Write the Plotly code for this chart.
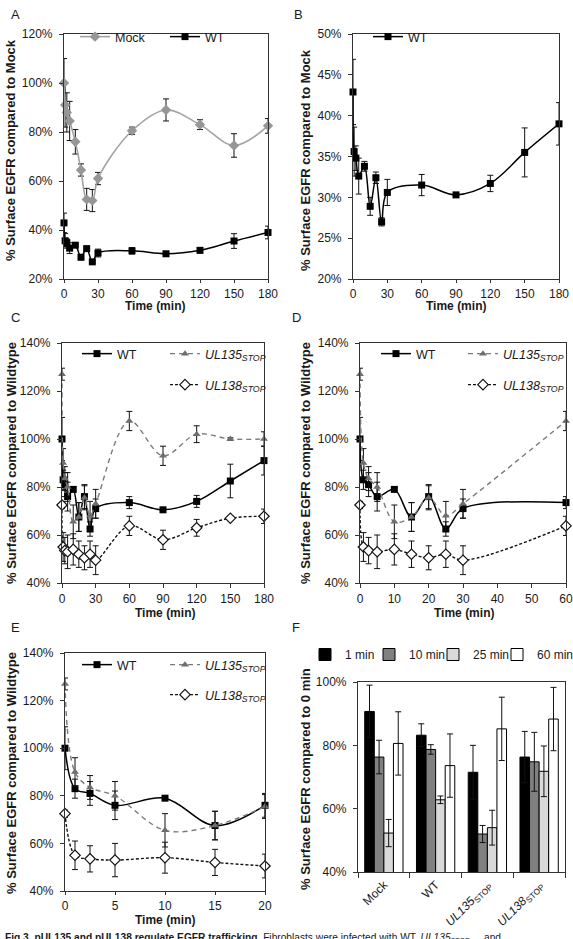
import plotly.graph_objects as go

W, H = 573, 939
FONT = "Arial, Liberation Sans, sans-serif"
TXT = "#1a1a1a"
AX = "#333333"

# ---------------- data ----------------
TIME = [0, 1, 2.5, 5, 10, 15, 20, 25, 30, 60, 90, 120, 150, 180]

# Panel A / B (compared to Mock)
MOCK = [100, 91, 88, 84.5, 76, 64.5, 52.5, 52, 61, 80.5, 89, 83, 74.5, 82.5]
MOCK_ERR = [10, 9, 8, 8, 5, 2.5, 4.5, 4.5, 2.5, 1.5, 4.5, 2, 4.8, 3]
WT_M = [42.9, 35.6, 34.8, 32.6, 33.8, 28.9, 32.4, 27.0, 30.6, 31.5, 30.3, 31.7, 35.5, 39.0]
WT_M_ERR = [4, 3, 1.5, 2.2, 0.6, 1.1, 0.7, 0.5, 1.6, 1.3, 0.2, 1, 3, 2.6]

# Panels C / D / E (compared to Wildtype)
WT = [100, 83, 81, 76, 79, 67.5, 76, 62.5, 71, 73.5, 70.5, 74, 82.5, 91]
WT_ERR = [9, 4, 5, 6, 1, 6, 5, 3, 4, 2.5, 0.5, 2.5, 7, 6]
UL135 = [127, 90, 83.5, 80, 65.5, 67.5, 75.5, 68, 73, 107.5, 93, 102, 100, 100]
UL135_ERR = [2.5, 6, 5, 6, 7, 6, 5, 6, 6, 4, 4, 3.5, 0.5, 3]
UL138 = [72.5, 55, 53.5, 53, 54, 52, 50.5, 52, 49.5, 63.8, 58, 63, 67, 67.8]
UL138_ERR = [1.5, 6, 5.5, 7, 6.5, 5.5, 5, 5.5, 6, 4, 4, 3.5, 0.5, 3]

# Panel F (compared to 0 min)
F_GROUPS = ["Mock", "WT", "<i>UL135</i><sub>STOP</sub>", "<i>UL138</i><sub>STOP</sub>"]
F_SERIES = ["1 min", "10 min", "25 min", "60 min"]
F_VALUES = [
    [90.7, 83.2, 71.5, 76.3],
    [76.3, 78.7, 52.0, 74.8],
    [52.3, 62.8, 54.0, 71.8],
    [80.6, 73.6, 85.2, 88.3],
]
F_ERRS = [
    [8.3, 3.6, 8.5, 8.1],
    [5.3, 1.5, 2.7, 9.3],
    [4.3, 1.2, 5.5, 8.0],
    [10, 10, 10, 10],
]
F_COLORS = ["#000000", "#808080", "#d9d9d9", "#ffffff"]

UL135_NAME = "<i>UL135<sub>STOP</sub></i>"
UL138_NAME = "<i>UL138<sub>STOP</sub></i>"


def px_x(p):
    return p / W


def px_y(p):
    return 1 - p / H


def dom_x(a, b):
    return [a / W, b / W]


def dom_y(top, bottom):
    return [1 - bottom / H, 1 - top / H]


def err(arr):
    return dict(type="data", array=arr, color="#111111", thickness=1, width=3)


fig = go.Figure()

# ---------- Panel A ----------
fig.add_trace(go.Scatter(
    x=TIME, y=MOCK, error_y=err(MOCK_ERR), name="Mock", mode="lines+markers",
    line=dict(color="#a3a3a3", width=1.6, shape="spline"),
    marker=dict(symbol="diamond", size=8, color="#969696"),
    xaxis="x", yaxis="y", legend="legend", cliponaxis=False))
fig.add_trace(go.Scatter(
    x=TIME, y=WT_M, error_y=err(WT_M_ERR), name="WT", mode="lines+markers",
    line=dict(color="#000000", width=1.5, shape="spline"),
    marker=dict(symbol="square", size=7, color="#000000"),
    xaxis="x", yaxis="y", legend="legend", cliponaxis=False, legendwidth=40))

# ---------- Panel B ----------
fig.add_trace(go.Scatter(
    x=TIME, y=WT_M, error_y=err(WT_M_ERR), name="WT", mode="lines+markers",
    line=dict(color="#000000", width=1.5, shape="spline"),
    marker=dict(symbol="square", size=7, color="#000000"),
    xaxis="x2", yaxis="y2", legend="legend2", cliponaxis=False, legendwidth=40))


def three_series(xa, ya, leg1, leg2, tmax):
    keep = [i for i, t in enumerate(TIME) if t <= tmax]
    tx = [TIME[i] for i in keep]
    sel = lambda a: [a[i] for i in keep]
    fig.add_trace(go.Scatter(
        x=tx, y=sel(WT), error_y=err(sel(WT_ERR)), name="WT", mode="lines+markers",
        line=dict(color="#000000", width=1.5, shape="spline"),
        marker=dict(symbol="square", size=7, color="#000000"),
        xaxis=xa, yaxis=ya, legend=leg1, cliponaxis=False))
    fig.add_trace(go.Scatter(
        x=tx, y=sel(UL135), error_y=err(sel(UL135_ERR)), name=UL135_NAME, mode="lines+markers",
        line=dict(color="#7a7a7a", width=1.4, shape="spline", dash="5px,4px"),
        marker=dict(symbol="triangle-up", size=7, color="#6e6e6e"),
        xaxis=xa, yaxis=ya, legend=leg1, cliponaxis=False, legendwidth=62))
    fig.add_trace(go.Scatter(
        x=tx, y=sel(UL138), error_y=err(sel(UL138_ERR)), name=UL138_NAME, mode="lines+markers",
        line=dict(color="#111111", width=1.4, shape="spline", dash="3px,2px"),
        marker=dict(symbol="diamond", size=8, color="#ffffff", line=dict(color="#111111", width=1.2)),
        xaxis=xa, yaxis=ya, legend=leg2, cliponaxis=False, legendwidth=62))


three_series("x3", "y3", "legend3", "legend4", 180)
three_series("x4", "y4", "legend5", "legend6", 60)
three_series("x5", "y5", "legend7", "legend8", 20)

# ---------- Panel F ----------
for i, (name, vals, errs, col) in enumerate(zip(F_SERIES, F_VALUES, F_ERRS, F_COLORS)):
    fig.add_trace(go.Bar(
        x=F_GROUPS, y=vals, name=name,
        marker=dict(color=col, line=dict(color="#000000", width=1)),
        error_y=dict(type="data", array=errs, color="#111111", thickness=1, width=3),
        xaxis="x6", yaxis="y6", legend="legend9",
        legendwidth=(36 if i == len(F_SERIES) - 1 else None)))


def axis(domain, anchor, **kw):
    d = dict(domain=domain, anchor=anchor, showline=True, linecolor=AX, linewidth=1.2,
             mirror=True, ticks="outside", ticklen=4, tickcolor=AX, showgrid=False,
             zeroline=False, tickfont=dict(family=FONT, size=12, color=TXT), fixedrange=True)
    d.update(kw)
    return d


def yaxis(domain, anchor, **kw):
    return axis(domain, anchor, ticklabelstandoff=4, ticksuffix="%", **kw)


def legend(xp, yp, ew, size=12.5):
    return dict(x=px_x(xp), y=px_y(yp), xanchor="left", yanchor="top", orientation="h",
                bgcolor="rgba(0,0,0,0)", borderwidth=0, entrywidth=ew, entrywidthmode="pixels",
                font=dict(family=FONT, size=size, color=TXT), tracegroupgap=0)


layout = dict(
    width=W, height=H, margin=dict(l=0, r=0, t=0, b=0, autoexpand=False),
    paper_bgcolor="white", plot_bgcolor="white",
    font=dict(family=FONT, color=TXT),
    barmode="group", bargap=0.26, bargroupgap=0,
    xaxis=axis(dom_x(64, 268), "y", range=[0, 180], tickvals=[0, 30, 60, 90, 120, 150, 180],
               ticklen=3),
    yaxis=yaxis(dom_y(34, 279), "x", range=[20, 120], dtick=20),
    xaxis2=axis(dom_x(353, 559), "y2", range=[0, 180], tickvals=[0, 30, 60, 90, 120, 150, 180],
                ticklen=3),
    yaxis2=yaxis(dom_y(34, 279), "x2", range=[20, 50], dtick=5),
    xaxis3=axis(dom_x(62, 264), "y3", range=[0, 180], tickvals=[0, 30, 60, 90, 120, 150, 180]),
    yaxis3=yaxis(dom_y(343, 583), "x3", range=[40, 140], dtick=20),
    xaxis4=axis(dom_x(360, 566), "y4", range=[0, 60], dtick=10),
    yaxis4=yaxis(dom_y(343, 583), "x4", range=[40, 140], dtick=20),
    xaxis5=axis(dom_x(65, 265), "y5", range=[0, 20], dtick=5, ticklen=3),
    yaxis5=yaxis(dom_y(653, 891), "x5", range=[40, 140], dtick=20),
    xaxis6=axis(dom_x(358, 565), "y6", type="category", tickangle=-45, tickson="boundaries",
                ticklen=5),
    yaxis6=yaxis(dom_y(682, 872), "x6", range=[40, 100], dtick=20),
    legend=legend(75, 22, 45),
    legend2=legend(368, 22, 45),
    legend3=legend(77, 339, 43),
    legend4=legend(165, 370, 62),
    legend5=legend(376, 339, 42),
    legend6=legend(463, 370, 62),
    legend7=legend(77, 650, 43),
    legend8=legend(165, 680, 62),
    legend9=legend(305, 640, 19, size=12),
    showlegend=True,
)

annotations = []
# panel letters
for letter, xp, yp in [("A", 15, 15), ("B", 298, 15), ("C", 15, 317),
                       ("D", 296, 317), ("E", 15, 627), ("F", 296, 627)]:
    annotations.append(dict(text=letter, x=px_x(xp), y=px_y(yp), xref="paper", yref="paper",
                            xanchor="center", yanchor="middle", showarrow=False,
                            font=dict(family=FONT, size=13, color=TXT)))
# y titles
for txt, xp, yp in [("% Surface EGFR compared to Mock", 11, 150),
                    ("% Surface EGFR compared to Mock", 305, 160),
                    ("% Surface EGFR compared to Wildtype", 11, 463),
                    ("% Surface EGFR compared to Wildtype", 305, 463),
                    ("% Surface EGFR compared to Wildtype", 11, 773),
                    ("% Surface EGFR compared to 0 min", 305, 779)]:
    annotations.append(dict(text="<b>" + txt + "</b>", x=px_x(xp), y=px_y(yp), xref="paper",
                            yref="paper", xanchor="center", yanchor="middle", textangle=-90,
                            showarrow=False, font=dict(family=FONT, size=13, color=TXT)))
# x titles
for xp, yp in [(155, 306), (456, 306), (165, 613), (464, 613), (165, 920)]:
    annotations.append(dict(text="<b>Time (min)</b>", x=px_x(xp), y=px_y(yp), xref="paper",
                            yref="paper", xanchor="center", yanchor="middle", showarrow=False,
                            font=dict(family=FONT, size=12, color=TXT)))
# caption (cut off at the bottom of the page)
annotations.append(dict(
    text="<b>Fig 3. pUL135 and pUL138 regulate EGFR trafficking.</b> Fibroblasts were infected with WT, "
         "<i>UL135</i><sub>STOP</sub>     and",
    x=px_x(3), y=px_y(930), xref="paper", yref="paper", xanchor="left", yanchor="top",
    showarrow=False, font=dict(family=FONT, size=10.2, color=TXT)))

layout["annotations"] = annotations
fig.update_layout(**layout)

fig.write_html("out.html")
